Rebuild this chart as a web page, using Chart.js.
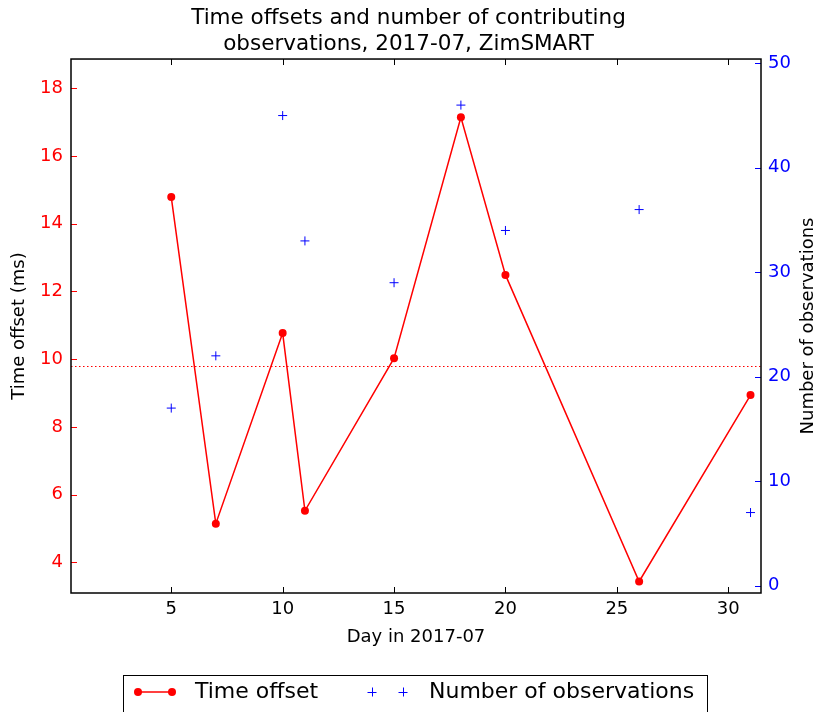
<!DOCTYPE html>
<html>
<head>
<meta charset="utf-8">
<script src="https://cdn.jsdelivr.net/npm/chart.js@4/dist/chart.umd.min.js"></script>
<style>
  html, body { margin: 0; padding: 0; background: #fff; }
  canvas { display: block; }
</style>
</head>
<body>
<canvas id="chart" width="817" height="712"></canvas>
<script>
// July 2017 offsets (ms) and how many observations went into each day
const days = [5, 7, 10, 11, 15, 18, 20, 26, 31];
const timeOffsets = [14.79, 5.14, 10.77, 5.52, 10.03, 17.15, 12.49, 3.43, 8.94];
const observationCounts = [17, 22, 45, 33, 29, 46, 34, 36, 7];

const dayTicks = [5, 10, 15, 20, 25, 30];
const offsetTicks = [4, 6, 8, 10, 12, 14, 16, 18];
const countTicks = [0, 10, 20, 30, 40, 50];

const meanOffset = timeOffsets.reduce((a, b) => a + b, 0) / timeOffsets.length;

const RED = '#ff0000';
const BLUE = '#0000ff';
const FONT = '"DejaVu Sans", sans-serif';
const AXIS_SIZE = 18;

function setTicks(values) {
    return scale => { scale.ticks = values.map(v => ({ value: v })); };
}

// dotted line at the mean offset
const meanLine = {
    id: 'meanLine',
    beforeDatasetsDraw(chart) {
        const { ctx, chartArea: a } = chart;
        const y = Math.round(chart.scales.y.getPixelForValue(meanOffset)) + 0.5;
        ctx.save();
        ctx.strokeStyle = RED;
        ctx.lineWidth = 1;
        ctx.setLineDash([1.5, 2.5]);
        ctx.beginPath();
        ctx.moveTo(a.left, y);
        ctx.lineTo(a.right, y);
        ctx.stroke();
        ctx.restore();
    }
};

// box around the plot plus inward tick marks
const frameTicks = {
    id: 'frameTicks',
    afterDatasetsDraw(chart) {
        const { ctx, chartArea: a, scales } = chart;
        const len = 6;
        const seg = (x1, y1, x2, y2) => {
            ctx.beginPath();
            ctx.moveTo(x1, y1);
            ctx.lineTo(x2, y2);
            ctx.stroke();
        };
        ctx.save();
        ctx.lineWidth = 1;

        ctx.strokeStyle = '#000';
        dayTicks.forEach(v => {
            const x = Math.round(scales.x.getPixelForValue(v)) + 0.5;
            seg(x, a.bottom, x, a.bottom - len);
            seg(x, a.top, x, a.top + len);
        });

        ctx.strokeStyle = RED;
        offsetTicks.forEach(v => {
            const y = Math.round(scales.y.getPixelForValue(v)) + 0.5;
            seg(a.left, y, a.left + len, y);
        });

        ctx.strokeStyle = BLUE;
        countTicks.forEach(v => {
            const y = Math.round(scales.y1.getPixelForValue(v)) + 0.5;
            seg(a.right, y, a.right - len, y);
        });

        ctx.strokeStyle = '#000';
        ctx.lineWidth = 1.5;
        ctx.strokeRect(a.left, a.top, a.right - a.left, a.bottom - a.top);

        // right axis title reads bottom-to-top like the left one
        ctx.fillStyle = '#000';
        ctx.font = AXIS_SIZE + 'px ' + FONT;
        ctx.textAlign = 'center';
        ctx.textBaseline = 'middle';
        ctx.translate(808, (a.top + a.bottom) / 2);
        ctx.rotate(-Math.PI / 2);
        ctx.fillText('Number of observations', 0, 0);
        ctx.restore();
    }
};

// legend box under the axis, line+two markers per entry
const boxLegend = {
    id: 'boxLegend',
    afterDraw(chart) {
        const { ctx } = chart;
        const ds = chart.data.datasets;
        const cy = 692;
        ctx.save();

        ctx.strokeStyle = '#000';
        ctx.lineWidth = 1;
        ctx.strokeRect(123.5, 675.5, 584, 60);

        // Time offset: line with two dots
        ctx.strokeStyle = ds[0].borderColor;
        ctx.lineWidth = ds[0].borderWidth;
        ctx.beginPath();
        ctx.moveTo(138, cy);
        ctx.lineTo(172, cy);
        ctx.stroke();
        ctx.fillStyle = ds[0].pointBackgroundColor;
        [138, 172].forEach(x => {
            ctx.beginPath();
            ctx.arc(x, cy, ds[0].pointRadius, 0, Math.PI * 2);
            ctx.fill();
        });

        // Number of observations: two plus markers
        ctx.strokeStyle = ds[1].borderColor;
        ctx.lineWidth = 1;
        [372, 403].forEach(x => {
            const r = ds[1].pointRadius;
            ctx.beginPath();
            ctx.moveTo(x - r, cy + 0.5);
            ctx.lineTo(x + r, cy + 0.5);
            ctx.moveTo(x + 0.5, cy - r);
            ctx.lineTo(x + 0.5, cy + r);
            ctx.stroke();
        });

        ctx.fillStyle = '#000';
        ctx.font = '22px ' + FONT;
        ctx.textBaseline = 'middle';
        ctx.textAlign = 'left';
        ctx.fillText(ds[0].label, 195, cy);
        ctx.fillText(ds[1].label, 429, cy);
        ctx.restore();
    }
};

new Chart(document.getElementById('chart'), {
    type: 'line',
    data: {
        datasets: [
            {
                label: 'Time offset',
                data: days.map((d, i) => ({ x: d, y: timeOffsets[i] })),
                yAxisID: 'y',
                borderColor: RED,
                borderWidth: 1.5,
                pointRadius: 4,
                pointBackgroundColor: RED,
                pointBorderWidth: 0,
                tension: 0,
                order: 0
            },
            {
                label: 'Number of observations',
                data: days.map((d, i) => ({ x: d, y: observationCounts[i] })),
                yAxisID: 'y1',
                showLine: false,
                pointStyle: 'cross',
                pointRadius: 4.5,
                borderColor: BLUE,
                borderWidth: 1,
                order: 1
            }
        ]
    },
    options: {
        responsive: false,
        animation: false,
        layout: { padding: { left: 0, right: 0, top: 0, bottom: 57 } },
        plugins: {
            legend: { display: false },
            tooltip: { enabled: false },
            title: {
                display: true,
                text: ['Time offsets and number of contributing', 'observations, 2017-07, ZimSMART'],
                color: '#000',
                font: { family: FONT, size: 21.5, weight: 'normal', lineHeight: 1.21 },
                padding: { top: 5, bottom: 2 }
            }
        },
        scales: {
            x: {
                type: 'linear',
                min: 0.5,
                max: 31.47,
                afterBuildTicks: setTicks(dayTicks),
                afterFit: s => { s.height = 62; },
                grid: { display: false, drawTicks: false },
                border: { display: false },
                ticks: { color: '#000', padding: 6, font: { family: FONT, size: AXIS_SIZE } },
                title: {
                    display: true,
                    text: 'Day in 2017-07',
                    color: '#000',
                    font: { family: FONT, size: AXIS_SIZE },
                    padding: { top: 0, bottom: 7 }
                }
            },
            y: {
                position: 'left',
                min: 3.09,
                max: 18.87,
                afterBuildTicks: setTicks(offsetTicks),
                afterFit: s => { s.width = 71; },
                grid: { display: false, drawTicks: false },
                border: { display: false },
                ticks: { color: RED, padding: 8, font: { family: FONT, size: AXIS_SIZE } },
                title: {
                    display: true,
                    text: 'Time offset (ms)',
                    color: '#000',
                    font: { family: FONT, size: AXIS_SIZE },
                    padding: { top: 9, bottom: 0 }
                }
            },
            y1: {
                position: 'right',
                min: -0.7,
                max: 50.41,
                afterBuildTicks: setTicks(countTicks),
                afterFit: s => { s.width = 56; },
                grid: { display: false, drawTicks: false },
                border: { display: false },
                ticks: { color: BLUE, padding: 7, font: { family: FONT, size: AXIS_SIZE } }
            }
        }
    },
    plugins: [meanLine, frameTicks, boxLegend]
});
</script>
</body>
</html>
